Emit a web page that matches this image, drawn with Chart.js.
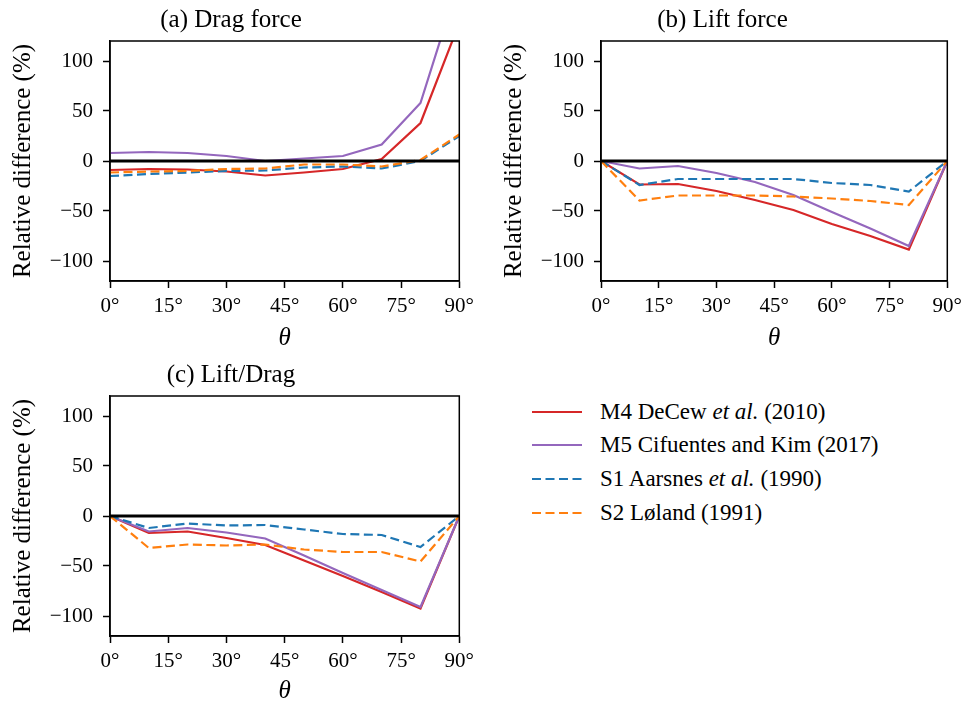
<!DOCTYPE html>
<html>
<head>
<meta charset="utf-8">
<script src="https://cdn.jsdelivr.net/npm/chart.js@4.4.0/dist/chart.umd.min.js"></script>
<style>
  html, body { margin: 0; padding: 0; background: #fff; overflow: hidden; }
  body { width: 968px; height: 706px; position: relative; font-family: 'Liberation Serif', 'Times New Roman', serif; }
  canvas { position: absolute; }
  #chart-a { left: 0; top: 0; }
  #chart-b { left: 491px; top: 0; }
  #chart-c { left: 0; top: 355px; }
  .legend-row { position: absolute; left: 530px; height: 30px; display: flex; align-items: center; font-size: 23px; color: #000; white-space: nowrap; }
  .legend-row svg { margin-right: 16px; }
</style>
</head>
<body>
<canvas id="chart-a" width="480" height="355"></canvas>
<canvas id="chart-b" width="477" height="355"></canvas>
<canvas id="chart-c" width="480" height="351"></canvas>

<!-- legend, drawn as html so "et al." can be italic -->
<div class="legend-row" style="top: 397px;">
  <svg width="54" height="6"><line x1="2" y1="3" x2="52" y2="3" stroke="#d62728" stroke-width="2.2"/></svg>
  <span>M4 DeCew <i>et al.</i> (2010)</span>
</div>
<div class="legend-row" style="top: 430px;">
  <svg width="54" height="6"><line x1="2" y1="3" x2="52" y2="3" stroke="#9467bd" stroke-width="2.2"/></svg>
  <span>M5 Cifuentes and Kim (2017)</span>
</div>
<div class="legend-row" style="top: 464px;">
  <svg width="54" height="6"><line x1="2" y1="3" x2="52" y2="3" stroke="#1f77b4" stroke-width="2.2" stroke-dasharray="9 4.5"/></svg>
  <span>S1 Aarsnes <i>et al.</i> (1990)</span>
</div>
<div class="legend-row" style="top: 498px;">
  <svg width="54" height="6"><line x1="2" y1="3" x2="52" y2="3" stroke="#ff7f0e" stroke-width="2.2" stroke-dasharray="9 4.5"/></svg>
  <span>S2 Løland (1991)</span>
</div>

<script>
// inflow angle (deg)
const angles = [0, 10, 20, 30, 40, 50, 60, 70, 80, 90];

// (a) drag force, relative difference (%)
const m4Drag = [-9, -8, -8.5, -10.5, -14.5, -11.5, -8, 2, 38, 138];
const m5Drag = [8, 9, 8, 5, 0, 2.5, 5, 16.5, 58, 181];
const s1Drag = [-15, -13, -11.5, -10, -9.5, -6.5, -5.5, -7.5, 0, 25];
const s2Drag = [-11.5, -10.5, -10, -8, -7.5, -3.5, -3.5, -5.5, 1, 26.5];

// (b) lift force
const m4Lift = [0, -23.5, -23, -30, -39, -49, -63, -75, -88.5, 0];
const m5Lift = [0, -7.5, -5, -12, -21, -34, -51, -67.5, -85, 0];
const s1Lift = [0, -24, -18, -18, -18, -18, -22, -24, -30.5, 0];
const s2Lift = [0, -39.5, -34.5, -34.5, -34.5, -35.5, -37.5, -40, -44, 0];

// (c) lift/drag
const m4LD = [0, -17, -15.5, -22, -29, -44.5, -60, -76, -92.5, 0];
const m5LD = [0, -15.5, -12, -16.5, -22.5, -39.5, -57, -74, -91, 0];
const s1LD = [0, -12, -7.5, -9.5, -9, -13.5, -18, -19, -31, 0];
const s2LD = [0, -32, -28.5, -29.5, -28.5, -33.5, -36, -36, -45.5, 0];

// zero reference line
const zeroX = [0, 90];
const zeroY = [0, 0];

const xTicks = [0, 15, 30, 45, 60, 75, 90];
const yTicks = [-100, -50, 0, 50, 100];

const FONT = "'Liberation Serif', 'Times New Roman', serif";
Chart.defaults.font.family = FONT;
Chart.defaults.color = '#000';

function pts(xs, ys) {
  return xs.map((x, i) => ({ x: x, y: ys[i] }));
}

function makePanel(id, title, m4, m5, s1, s2, opts) {
  const ctx = document.getElementById(id).getContext('2d');
  const line = (data, color, dashed, order) => ({
    data: pts(angles, data),
    borderColor: color,
    borderWidth: 2.2,
    borderDash: dashed ? [9, 4.5] : [],
    pointRadius: 0,
    fill: false,
    tension: 0,
    order: order
  });
  new Chart(ctx, {
    type: 'line',
    data: {
      datasets: [
        { data: pts(zeroX, zeroY), borderColor: '#000', borderWidth: 3, pointRadius: 0, order: 0 },
        line(s2, '#ff7f0e', true, 1),
        line(s1, '#1f77b4', true, 2),
        line(m5, '#9467bd', false, 3),
        line(m4, '#d62728', false, 4)
      ]
    },
    options: {
      responsive: false,
      animation: false,
      layout: { padding: { left: 0, right: opts.padRight, top: 0, bottom: 0 } },
      plugins: {
        legend: { display: false },
        tooltip: { enabled: false },
        title: {
          display: true,
          text: title,
          color: '#000',
          font: { family: FONT, size: 25, weight: 'normal' },
          padding: { top: 5, bottom: 6 }
        }
      },
      scales: {
        x: {
          type: 'linear',
          min: 0,
          max: 90,
          afterBuildTicks: s => { s.ticks = xTicks.map(v => ({ value: v })); },
          afterFit: s => { s.height = opts.xHeight; },
          grid: { drawOnChartArea: false, drawTicks: true, tickLength: 7, tickColor: '#000', tickWidth: 1.5 },
          border: { display: true, color: '#000', width: 1.5 },
          ticks: {
            color: '#000',
            padding: 6,
            maxRotation: 0,
            font: { family: FONT, size: 21 },
            callback: v => v + '°'
          },
          title: {
            display: true,
            text: 'θ',
            color: '#000',
            font: { family: FONT, size: 25, style: 'italic' },
            padding: { top: 0, bottom: opts.thetaPad }
          }
        },
        y: {
          min: -120,
          max: 120,
          afterBuildTicks: s => { s.ticks = yTicks.map(v => ({ value: v })); },
          afterFit: s => { s.width = 110; },
          grid: { drawOnChartArea: false, drawTicks: true, tickLength: 7, tickColor: '#000', tickWidth: 1.5 },
          border: { display: true, color: '#000', width: 1.5 },
          ticks: {
            color: '#000',
            padding: 10,
            font: { family: FONT, size: 21 },
            callback: v => String(v).replace('-', '\u2212')
          },
          title: {
            display: true,
            text: 'Relative difference (%)',
            color: '#000',
            font: { family: FONT, size: 25 },
            padding: { top: 8, bottom: 0 }
          }
        }
      }
    },
    plugins: [{
      // box on all four sides, like the matplotlib axes frame
      id: 'frame',
      afterDatasetsDraw(chart) {
        const a = chart.chartArea;
        const c = chart.ctx;
        c.save();
        c.strokeStyle = '#000';
        c.lineWidth = 1.5;
        c.strokeRect(a.left, a.top, a.right - a.left, a.bottom - a.top);
        c.restore();
      }
    }]
  });
}

makePanel('chart-a', '(a) Drag force', m4Drag, m5Drag, s1Drag, s2Drag, { padRight: 18, xHeight: 74, thetaPad: 2 });
makePanel('chart-b', '(b) Lift force', m4Lift, m5Lift, s1Lift, s2Lift, { padRight: 14, xHeight: 74, thetaPad: 2 });
makePanel('chart-c', '(c) Lift/Drag', m4LD, m5LD, s1LD, s2LD, { padRight: 18, xHeight: 70, thetaPad: 0 });
</script>
</body>
</html>
